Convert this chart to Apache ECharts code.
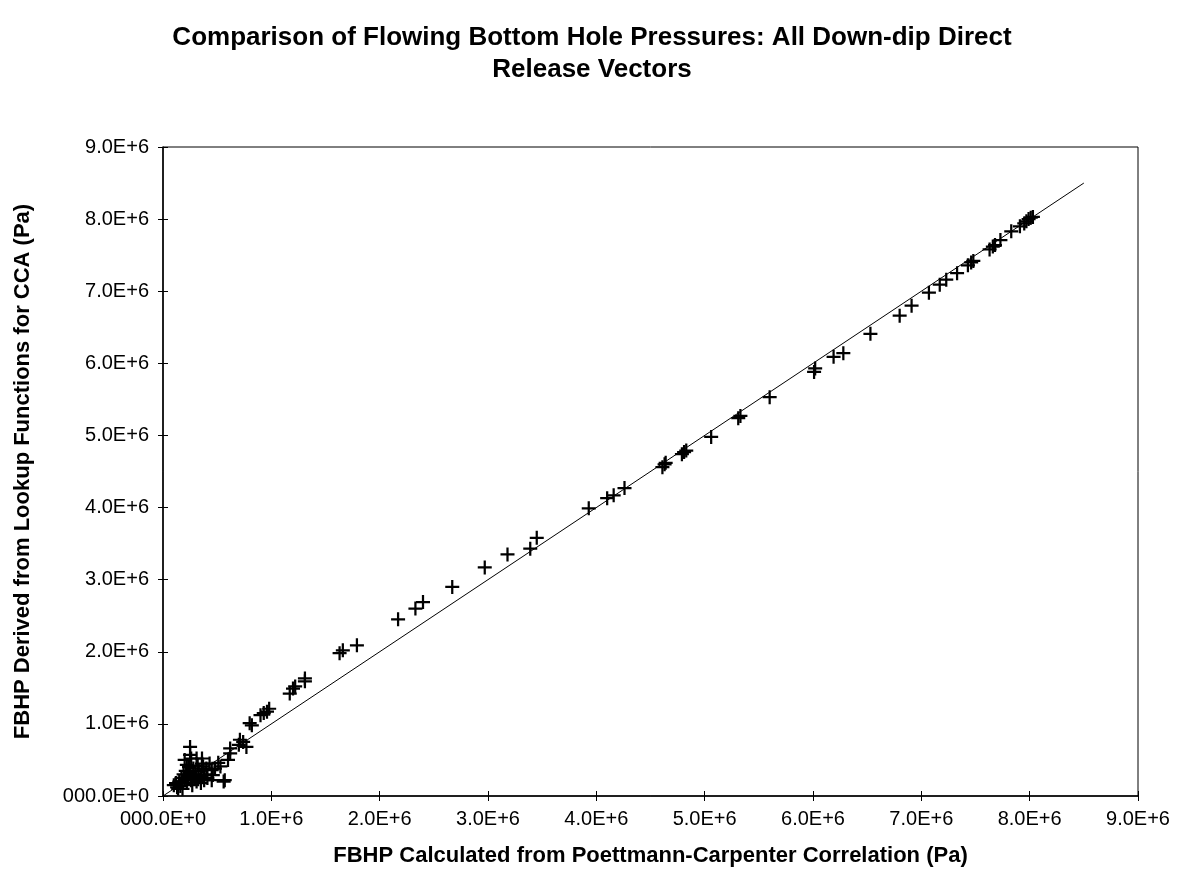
<!DOCTYPE html>
<html>
<head>
<meta charset="utf-8">
<script src="https://cdn.jsdelivr.net/npm/echarts@6/dist/echarts.min.js"></script>
<style>
html,body{margin:0;padding:0;background:#fff;}
#chart{width:1178px;height:882px;}
</style>
</head>
<body>
<div id="chart"></div>
<script>
// Values in units of 1E+6 Pa: [FBHP Poettmann-Carpenter, FBHP lookup CCA]
const pointsX = [
  0.10,0.12,0.13,0.14,0.15,0.16,0.17,0.18,0.18,0.19,0.20,0.21,0.22,0.23,0.24,0.25,0.26,0.27,0.28,0.29,
  0.30,0.31,0.32,0.33,0.35,0.35,0.36,0.38,0.38,0.40,0.41,0.43,0.45,0.45,0.46,0.48,0.51,0.53,0.56,0.57,
  0.25,0.25,0.26,0.31,0.36,0.20,0.22,0.37,0.60,0.62,0.62,0.70,0.71,0.74,0.77,
  0.80,0.82,0.90,0.93,0.96,0.98,1.17,1.20,1.22,1.31,1.31,1.63,1.66,1.79,
  2.17,2.33,2.40,2.67,2.97,3.18,3.39,3.45,3.93,4.10,4.16,4.26,
  4.61,4.63,4.64,4.79,4.81,4.83,5.06,5.31,5.33,5.60,6.01,6.02,6.19,6.28,6.53,6.80,6.91,
  7.07,7.17,7.23,7.33,7.43,7.46,7.48,7.63,7.66,7.68,7.73,7.83,7.91,7.95,7.97,7.99,8.01,8.03
];
const pointsY = [
  0.15,0.18,0.12,0.10,0.20,0.14,0.25,0.10,0.20,0.30,0.22,0.35,0.18,0.28,0.40,0.32,0.22,0.15,0.38,0.25,
  0.30,0.20,0.42,0.35,0.28,0.18,0.45,0.30,0.22,0.38,0.25,0.45,0.36,0.22,0.29,0.38,0.46,0.41,0.20,0.22,
  0.68,0.57,0.52,0.52,0.52,0.50,0.43,0.41,0.50,0.59,0.66,0.71,0.78,0.75,0.68,
  1.01,0.98,1.12,1.15,1.17,1.21,1.42,1.49,1.52,1.59,1.63,1.98,2.02,2.09,
  2.45,2.60,2.69,2.90,3.17,3.35,3.43,3.58,3.99,4.13,4.17,4.27,
  4.56,4.60,4.62,4.74,4.77,4.79,4.98,5.24,5.27,5.53,5.88,5.93,6.09,6.14,6.41,6.66,6.80,
  6.98,7.09,7.16,7.25,7.36,7.40,7.42,7.58,7.62,7.64,7.71,7.83,7.90,7.94,7.97,8.00,8.02,8.03
];
// 1:1 reference line end points (1E+6 Pa)
const lineX = [0, 8.5];
const lineY = [0, 8.5];
const tickLabels = ['000.0E+0','1.0E+6','2.0E+6','3.0E+6','4.0E+6','5.0E+6','6.0E+6','7.0E+6','8.0E+6','9.0E+6'];

const titleText = 'Comparison of Flowing Bottom Hole Pressures: All Down-dip Direct\nRelease Vectors';
const xName = 'FBHP Calculated from Poettmann-Carpenter Correlation (Pa)';
const yName = 'FBHP Derived from Lookup Functions for CCA (Pa)';

const scatterData = pointsX.map((x, i) => [x * 1e6, pointsY[i] * 1e6]);
const lineData = lineX.map((x, i) => [x * 1e6, lineY[i] * 1e6]);
const fmt = v => tickLabels[Math.round(v / 1e6)] || '';
const FONT = '"Liberation Sans", Arial, sans-serif';

const chart = echarts.init(document.getElementById('chart'), null, {renderer: 'canvas'});
const axisCommon = {
  type: 'value', min: 0, max: 9e6, interval: 1e6,
  nameLocation: 'middle',
  nameTextStyle: {fontFamily: FONT, fontWeight: 'bold', fontSize: 22, color: '#000'},
  axisLine: {show: true, lineStyle: {color: '#000', width: 1.5}},
  axisTick: {show: true, inside: false, length: 5, lineStyle: {color: '#000', width: 1}},
  splitLine: {show: false},
  axisLabel: {formatter: fmt, fontFamily: FONT, fontSize: 20, color: '#000'}
};
// inner half of the crossing ticks
const innerTicks = {
  type: 'value', min: 0, max: 9e6, interval: 1e6,
  axisLine: {show: false},
  axisTick: {show: true, inside: true, length: 5, lineStyle: {color: '#000', width: 1}},
  axisLabel: {show: false},
  splitLine: {show: false}
};
chart.setOption({
  backgroundColor: '#fff',
  animation: false,
  title: {
    text: titleText, left: 587, top: 17, textAlign: 'center',
    textStyle: {fontFamily: FONT, fontWeight: 'bold', fontSize: 26, color: '#000', lineHeight: 32}
  },
  grid: {left: 163, right: 40, top: 147, bottom: 86, show: true, borderColor: '#000', borderWidth: 1, backgroundColor: '#fff'},
  xAxis: [
    Object.assign({}, axisCommon, {
      name: xName, nameGap: 49,
      axisLabel: Object.assign({}, axisCommon.axisLabel, {margin: 13})
    }),
    Object.assign({}, innerTicks, {position: 'bottom'})
  ],
  yAxis: [
    Object.assign({}, axisCommon, {
      name: yName, nameGap: 129,
      axisLabel: Object.assign({}, axisCommon.axisLabel, {margin: 14})
    }),
    Object.assign({}, innerTicks, {position: 'left'})
  ],
  series: [
    {
      type: 'line', data: lineData, showSymbol: false, symbol: 'none',
      lineStyle: {color: '#000', width: 1}, z: 2
    },
    {
      type: 'scatter', data: scatterData,
      symbol: 'path://M4.2,0H5.8V4.2H10V5.8H5.8V10H4.2V5.8H0V4.2H4.2Z',
      symbolSize: 14,
      itemStyle: {color: '#000', opacity: 1}, z: 3
    }
  ]
});
</script>
</body>
</html>
